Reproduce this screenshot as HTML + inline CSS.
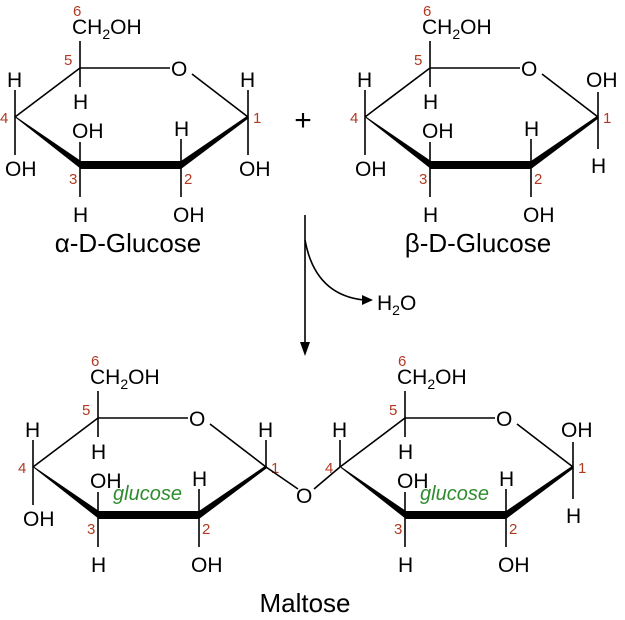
<!DOCTYPE html>
<html><head><style>
html,body{margin:0;padding:0;background:#fff;}
svg{display:block;font-family:"Liberation Sans",Arial,sans-serif;}
.t{font-size:21px;fill:#000;}
.r{font-size:15px;fill:#b03a22;}
.g{font-size:20px;fill:#2e8b2e;font-style:italic;}
line,path.l{stroke:#000;stroke-width:1.6;fill:none;}
</style></head><body>
<svg width="625" height="620" viewBox="0 0 625 620">
<defs>
<g id="ring">
  <line x1="0" y1="0" x2="65" y2="-49"/>
  <line x1="65" y1="-49" x2="155" y2="-49"/>
  <line x1="177" y1="-43" x2="233" y2="0"/>
  <text class="t" x="156" y="-41">O</text>
  <polygon points="0,-1 1,1 66,52 66,44" fill="#000"/>
  <polygon points="65,44 166,44 166,52 65,52" fill="#000"/>
  <polygon points="166,44 166,52 234,1 232,-1" fill="#000"/>
  <line x1="65" y1="-49" x2="65" y2="-76"/>
  <text class="t" x="57" y="-83">CH<tspan font-size="14" dy="5">2</tspan><tspan dy="-5">OH</tspan></text>
  <text class="r" x="58" y="-101">6</text>
  <line x1="65" y1="-49" x2="65" y2="-30"/>
  <text class="t" x="58" y="-8">H</text>
  <text class="r" x="49" y="-52">5</text>
  <line x1="65" y1="48" x2="65" y2="25"/>
  <text class="t" x="57" y="21">OH</text>
  <line x1="65" y1="48" x2="65" y2="80"/>
  <text class="t" x="58" y="105">H</text>
  <text class="r" x="54" y="67">3</text>
  <line x1="166" y1="48" x2="166" y2="22"/>
  <text class="t" x="159" y="19">H</text>
  <line x1="166" y1="48" x2="166" y2="80"/>
  <text class="t" x="158" y="105">OH</text>
  <text class="r" x="169" y="67">2</text>
  <text class="r" x="238" y="6">1</text>
</g>
<g id="c4full">
  <line x1="0" y1="0" x2="0" y2="-27"/>
  <text class="t" x="-8" y="-30">H</text>
  <line x1="0" y1="0" x2="0" y2="38"/>
  <text class="t" x="-10" y="59">OH</text>
  <text class="r" x="-15" y="6">4</text>
</g>
</defs>

<g transform="translate(15,117)">
  <use href="#ring"/><use href="#c4full"/>
  <line x1="233" y1="0" x2="233" y2="-27"/><text class="t" x="225" y="-30">H</text>
  <line x1="233" y1="0" x2="233" y2="38"/><text class="t" x="224" y="59">OH</text>
</g>
<text x="128" y="252" font-size="26" text-anchor="middle">α-D-Glucose</text>
<text x="303" y="130" font-size="30" text-anchor="middle">+</text>

<g transform="translate(365,117)">
  <use href="#ring"/><use href="#c4full"/>
  <line x1="233" y1="0" x2="233" y2="-25"/><text class="t" x="221" y="-30">OH</text>
  <line x1="233" y1="0" x2="233" y2="32"/><text class="t" x="226" y="56">H</text>
</g>
<text x="478" y="252" font-size="26" text-anchor="middle">β-D-Glucose</text>

<line x1="305" y1="215" x2="305" y2="348"/>
<polygon points="300,342 310,342 305,356" fill="#000"/>
<path class="l" d="M305,240 Q315,295 364,300"/>
<polygon points="362,295 373,300 362,305" fill="#000"/>
<text class="t" x="377" y="310">H<tspan font-size="14" dy="5">2</tspan><tspan dy="-5">O</tspan></text>

<g transform="translate(33,467)">
  <use href="#ring"/><use href="#c4full"/>
  <line x1="233" y1="0" x2="233" y2="-27"/><text class="t" x="225" y="-30">H</text>
  <text class="g" x="80" y="33">glucose</text>
</g>
<line x1="266" y1="467" x2="298" y2="489"/>
<text class="t" x="296" y="503">O</text>
<line x1="314" y1="489" x2="340" y2="467"/>
<g transform="translate(340,467)">
  <use href="#ring"/>
  <line x1="0" y1="0" x2="0" y2="-27"/><text class="t" x="-8" y="-30">H</text>
  <text class="r" x="-15" y="6">4</text>
  <line x1="233" y1="0" x2="233" y2="-25"/><text class="t" x="221" y="-30">OH</text>
  <line x1="233" y1="0" x2="233" y2="32"/><text class="t" x="226" y="56">H</text>
  <text class="g" x="80" y="33">glucose</text>
</g>
<text x="305" y="612" font-size="26" text-anchor="middle">Maltose</text>
</svg>
</body></html>
